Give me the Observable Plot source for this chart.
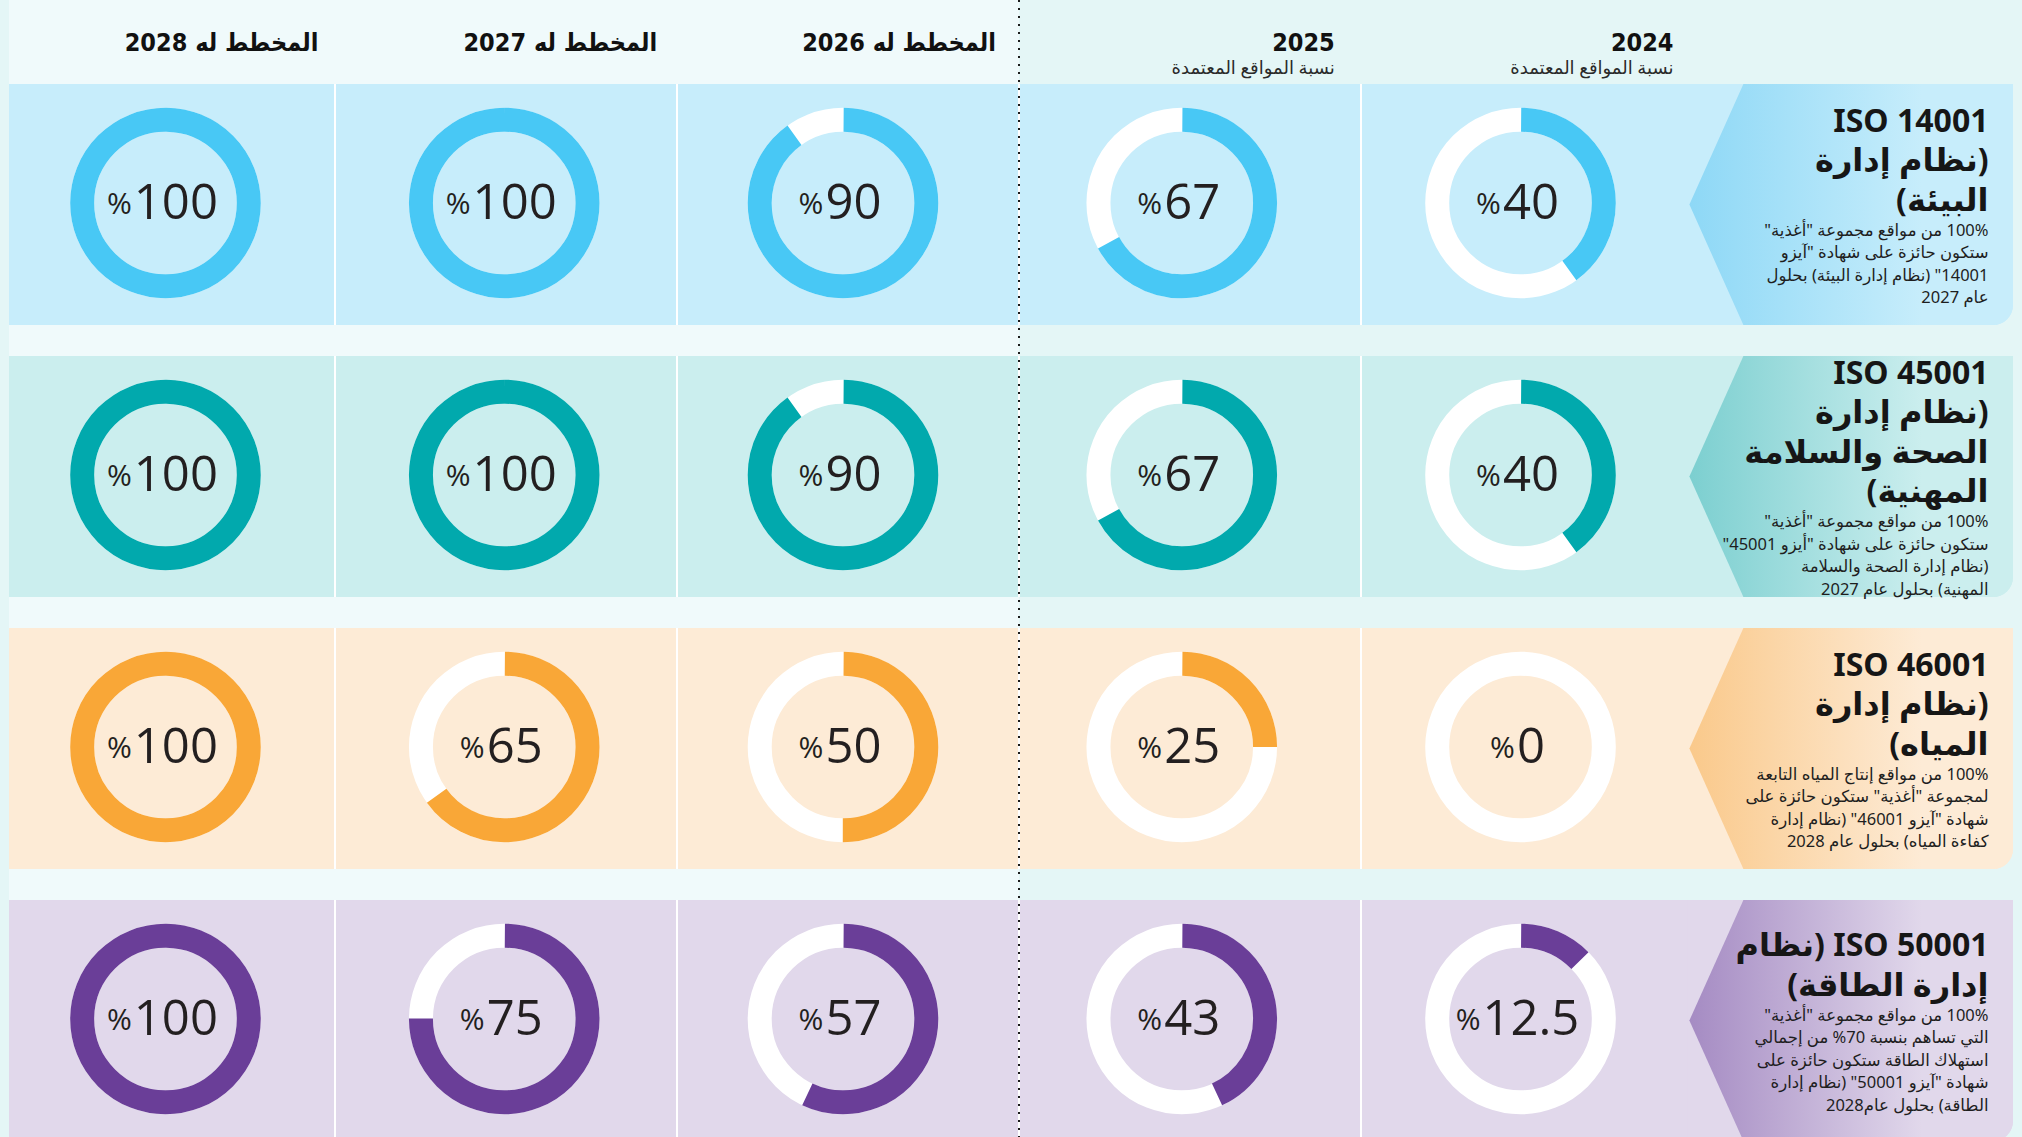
<!DOCTYPE html>
<html lang="ar">
<head>
<meta charset="utf-8">
<script src="https://cdn.jsdelivr.net/npm/d3@7"></script>
<script src="https://cdn.jsdelivr.net/npm/@observablehq/plot@0.6"></script>
<style>
  html, body { margin: 0; padding: 0; background: #e4f6f6; overflow: hidden; }
  #chart svg { display: block; }
</style>
</head>
<body>
<div id="chart"></div>
<script>
// ---------- DATA ----------
const years = ["2024", "2025", "2026", "2027", "2028"];
const yearHeadings = ["2024", "2025", "المخطط له 2026", "المخطط له 2027", "المخطط له 2028"];
const yearSubheadings = ["نسبة المواقع المعتمدة", "نسبة المواقع المعتمدة", "", "", ""];
const standards = ["ISO 14001", "ISO 45001", "ISO 46001", "ISO 50001"];

const iso14001 = [40, 67, 90, 100, 100];
const iso45001 = [40, 67, 90, 100, 100];
const iso46001 = [0, 25, 50, 65, 100];
const iso50001 = [12.5, 43, 57, 75, 100];

const titleLines = [
  ["ISO 14001", "(نظام إدارة", "البيئة)"],
  ["ISO 45001", "(نظام إدارة", "الصحة والسلامة", "المهنية)"],
  ["ISO 46001", "(نظام إدارة", "المياه)"],
  ["ISO 50001 (نظام", "إدارة الطاقة)"]
];
const descLines = [
  ["100% من مواقع مجموعة \"أغذية\"", "ستكون حائزة على شهادة \"آيزو", "14001\" (نظام إدارة البيئة) بحلول", "عام 2027"],
  ["100% من مواقع مجموعة \"أغذية\"", "ستكون حائزة على شهادة \"أيزو 45001\"", "(نظام إدارة الصحة والسلامة", "المهنية) بحلول عام 2027"],
  ["100% من مواقع إنتاج المياه التابعة", "لمجموعة \"أغذية\" ستكون حائزة على", "شهادة \"آيزو 46001\" (نظام إدارة", "كفاءة المياه) بحلول عام 2028"],
  ["100% من مواقع مجموعة \"أغذية\"", "التي تساهم بنسبة 70% من إجمالي", "استهلاك الطاقة ستكون حائزة على", "شهادة \"آيزو 50001\" (نظام إدارة", "الطاقة) بحلول عام2028"]
];

const ringColors = ["#48c8f5", "#01a9ad", "#f9a737", "#6a3e98"];
const cellColors = ["#c7edfb", "#cbeeee", "#fdebd6", "#e1d8eb"];
const arrowColors = ["#8ed8f6", "#7ccfd0", "#fac98b", "#a58bc3"];

// ---------- LAYOUT ----------
const W = 2022, H = 1137;
const M = 9;
const pageBg = "#e4f6f6", plannedBg = "#f0fafb";
const seriesValues = [iso14001, iso45001, iso46001, iso50001];

const xOpts = {type: "band", domain: years.slice().reverse(), range: [-4.4, 1689.4], padding: 0, round: false};
const yOpts = {type: "band", domain: standards, range: [84, 1141], paddingInner: 0.114, paddingOuter: 0, round: false};
const xs = Plot.scale({x: xOpts});
const ys = Plot.scale({y: yOpts});
// the background cells of the table sit on a slightly wider grid than the rings
const cellXs = Plot.scale({x: {...xOpts, range: [-7, 1703]}});

const cells = standards.flatMap((s, i) => years.map((y, j) => ({
  std: s, year: y, value: seriesValues[i][j], ring: ringColors[i], bg: cellColors[i]
})));

const rtl = s => "\u202B" + s + "\u202C";

// background panel for planned years (left of the dotted divider)
function plannedPanel() {
  const g = d3.create("svg:g");
  const xr = cellXs.apply("2025");
  g.append("rect").attr("x", M).attr("y", 0).attr("width", xr - M).attr("height", H).attr("fill", plannedBg);
  return g.node();
}

// table cells: white row strip, then coloured cells with a 1px gap
function tableCells() {
  const g = d3.create("svg:g");
  const bw = ys.bandwidth, cw = cellXs.bandwidth;
  const xEnd = xs.apply("2024") + xs.bandwidth;
  standards.forEach((s, i) => {
    g.append("rect").attr("x", M).attr("y", ys.apply(s)).attr("width", xEnd - M).attr("height", bw).attr("fill", "#ffffff");
  });
  cells.forEach(d => {
    const x0 = Math.max(M, cellXs.apply(d.year) + 1);
    const x1 = cellXs.apply(d.year) + cw - 1;
    g.append("rect").attr("x", x0).attr("y", ys.apply(d.std)).attr("width", x1 - x0).attr("height", bw).attr("fill", d.bg);
  });
  return g.node();
}

// chevron label panels on the right
function labelPanels() {
  const g = d3.create("svg:g");
  const defs = g.append("defs");
  const bw = ys.bandwidth;
  const xTip = xs.apply("2024") + xs.bandwidth;
  const xR = W - M;
  const rad = 20;
  standards.forEach((s, i) => {
    const top = ys.apply(s), bottom = top + bw, mid = top + bw / 2;
    const id = "grad" + i;
    const lg = defs.append("linearGradient").attr("id", id).attr("x1", 0).attr("x2", 1).attr("y1", 0).attr("y2", 0);
    lg.append("stop").attr("offset", 0).attr("stop-color", arrowColors[i]);
    lg.append("stop").attr("offset", 0.72).attr("stop-color", cellColors[i]);
    g.append("path")
      .attr("d", `M${xTip - 2},${top}H${xR}V${bottom - rad}A${rad},${rad} 0 0 1 ${xR - rad},${bottom}H${xTip - 2}Z`)
      .attr("fill", cellColors[i]);
    g.append("path")
      .attr("d", `M${xTip},${mid}L${xTip + 54},${top}H${xR}V${bottom - rad}A${rad},${rad} 0 0 1 ${xR - rad},${bottom}H${xTip + 54}Z`)
      .attr("fill", `url(#${id})`);
  });
  return g.node();
}

function dottedDivider() {
  const g = d3.create("svg:g");
  const x = cellXs.apply("2025");
  g.append("line").attr("x1", x).attr("x2", x).attr("y1", 0).attr("y2", H)
    .attr("stroke", "#1b1b1b").attr("stroke-width", 2).attr("stroke-dasharray", "2 6");
  return g.node();
}

const R = 83.3, C = 2 * Math.PI * R;
const ringDy = -2;

const titleFont = "'Noto Sans', 'DejaVu Sans', sans-serif";
const headFont = "'DejaVu Sans Condensed', 'DejaVu Sans', sans-serif";

const rowTextMarks = standards.flatMap((s, i) => {
  const nT = titleLines[i].length, nD = descLines[i].length;
  const a = 4 - ((nD - 1) * 22.5 - (nT - 1) * 39.5) / 2;
  return [
    Plot.text([s], {
      y: d => d, frameAnchor: "right", dx: -25, dy: a - 4,
      text: () => titleLines[i].map(rtl).join("\n"), lineAnchor: "bottom", textAnchor: "end",
      fontSize: 32, fontWeight: 700, lineHeight: 39.5 / 32, fill: "#161616", fontFamily: titleFont
    }),
    Plot.text([s], {
      y: d => d, frameAnchor: "right", dx: -25, dy: a + 5,
      text: () => descLines[i].map(rtl).join("\n"), lineAnchor: "top", textAnchor: "end",
      fontSize: 16.5, fontWeight: 400, lineHeight: 22.5 / 16.5, fill: "#1e1e1e", fontFamily: titleFont
    })
  ];
});

const svg = Plot.plot({
  width: W, height: H,
  marginLeft: M, marginRight: M, marginTop: 0, marginBottom: 0,
  style: {background: pageBg},
  x: {...xOpts, axis: null},
  y: {...yOpts, axis: null},
  color: {type: "identity"},
  marks: [
    plannedPanel,
    tableCells,
    labelPanels,
    dottedDivider,
    Plot.dot(cells, {x: "year", y: "std", r: R, stroke: "#ffffff", strokeWidth: 24, fill: "none", dy: ringDy}),
    ...cells.map(d => Plot.dot([d], {
      x: "year", y: "std", r: R, stroke: "ring", strokeWidth: 24, fill: "none", dy: ringDy,
      strokeDasharray: `${d.value / 100 * C} ${C - d.value / 100 * C}`, strokeDashoffset: C / 4
    })),
    Plot.text(cells, {
      x: "year", y: "std", text: d => "%" + d.value, dx: -3, dy: ringDy,
      fontSize: 49, fill: "#231f20", fontFamily: "'Open Sans', 'Noto Sans', sans-serif"
    }),
    Plot.text(years, {
      x: d => d, frameAnchor: "top", dy: 42, dx: 153, lineAnchor: "middle", textAnchor: "end",
      text: (d, i) => rtl(yearHeadings[i]), fontSize: 25, fontWeight: 700, fill: "#111", fontFamily: headFont
    }),
    Plot.text(years, {
      filter: (d, i) => yearSubheadings[i] !== "",
      x: d => d, frameAnchor: "top", dy: 68, dx: 153, lineAnchor: "middle", textAnchor: "end",
      text: (d, i) => rtl(yearSubheadings[i]), fontSize: 18, fill: "#2a2a2a", fontFamily: titleFont
    }),
    ...rowTextMarks
  ]
});

// split the donut labels into a small "%" and a large number
const NS = "http://www.w3.org/2000/svg";
svg.querySelectorAll("text").forEach(t => {
  if (t.children.length) return;
  const m = /^%([\d.]+)$/.exec(t.textContent);
  if (!m) return;
  t.textContent = "";
  const p = document.createElementNS(NS, "tspan");
  p.setAttribute("font-size", 30);
  p.setAttribute("dy", "-5");
  p.textContent = "%";
  const n = document.createElementNS(NS, "tspan");
  n.setAttribute("dy", "5");
  n.setAttribute("dx", "2");
  n.textContent = m[1];
  t.appendChild(p);
  t.appendChild(n);
});

document.getElementById("chart").appendChild(svg);
</script>
</body>
</html>
